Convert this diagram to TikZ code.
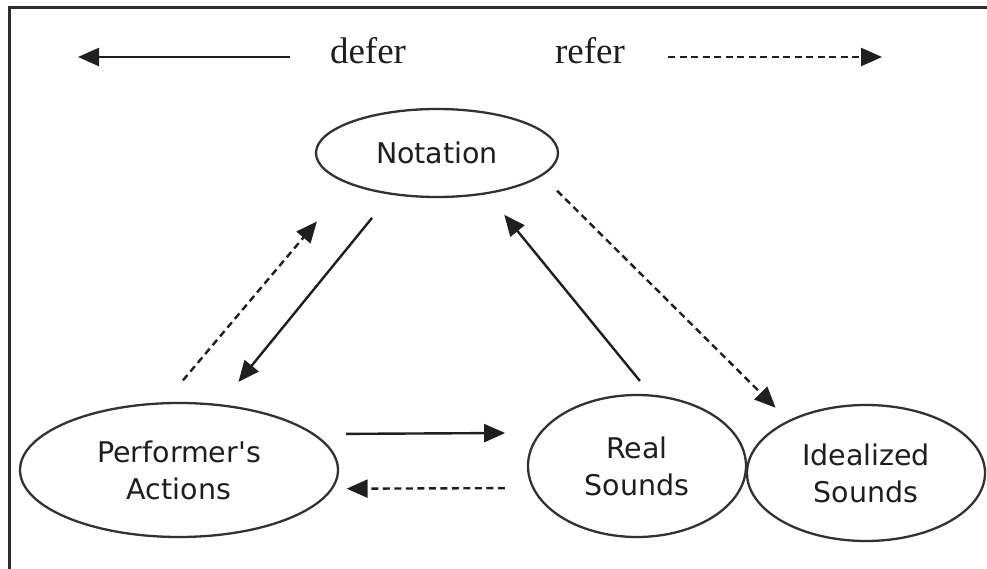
\documentclass[tikz,border=0pt]{standalone}
\usepackage{fontspec}
\setmainfont{Liberation Serif}
\setsansfont{DejaVu Sans}
\usepackage{tikz}
\usetikzlibrary{arrows.meta,shapes.geometric,positioning}
\definecolor{dfline}{RGB}{50,50,50}
\definecolor{dftext}{RGB}{30,30,30}
\definecolor{dfframe}{RGB}{45,45,45}
\tikzstyle{bubble} = [ellipse, draw=dfline, line width=2.3pt, outer sep=0pt, text=dftext, align=center, font=\sffamily\fontsize{28.5}{37}\selectfont]
\tikzstyle{arrow} = [line width=2.4pt, -{Triangle[length=21pt,width=18pt]}, color=black!88]
\tikzstyle{dasharrow} = [arrow, dash pattern=on 7pt off 4.5pt]
\tikzstyle{legend} = [anchor=base, text=dftext, font=\fontsize{37}{40}\selectfont]

\begin{document}
\begin{tikzpicture}[x=1pt, y=1pt]
\useasboundingbox (0,0) rectangle (987,568);
% Frame (cut off at right and bottom)
\draw[line width=3pt, dfframe] (9.5,-5) -- (9.5,560.5) -- (995,560.5);

% Legend
\node[legend] (defer) at (368,504) {defer};
\node[legend] (refer) at (590,504) {refer};
\coordinate (deferstart) at (290,511);
\coordinate (deferend) at (78,511);
\coordinate (referstart) at (668,511);
\coordinate (referend) at (882,511);
\draw[arrow] (deferstart) -- (deferend);
\draw[dasharrow] (referstart) -- (referend);

% Ellipses
\node[bubble, minimum width=242pt, minimum height=88pt] (notation) at (437,415) {Notation};
\node[bubble, minimum width=318pt, minimum height=134pt] (performer) at (179,98) {Performer\textquotesingle s\\Actions};
\node[bubble, minimum width=218pt, minimum height=142pt] (real) at (637,102) {Real\\Sounds};
\node[bubble, minimum width=238pt, minimum height=136pt] (ideal) at (866,95) {Idealized\\Sounds};

% Arrows
\draw[arrow, shorten <=31pt, shorten >=30pt] (notation.222) -- (performer.58);
\draw[dasharrow, shorten <=30pt, shorten >=50pt] (performer.103) -- (notation.199.6);
\draw[arrow, shorten <=19pt, shorten >=28pt] (real.78) -- (notation.321);
\draw[dasharrow, shorten <=22pt, shorten >=19pt] (notation.348.5) -- (ideal.146.4);
\draw[arrow, shorten <=33pt, shorten >=35.5pt] (performer.15.6) -- (real.161.1);
\draw[dasharrow, shorten <=28.4pt, shorten >=15pt] (real.192) -- (performer.353.3);
\end{tikzpicture}
\end{document}
